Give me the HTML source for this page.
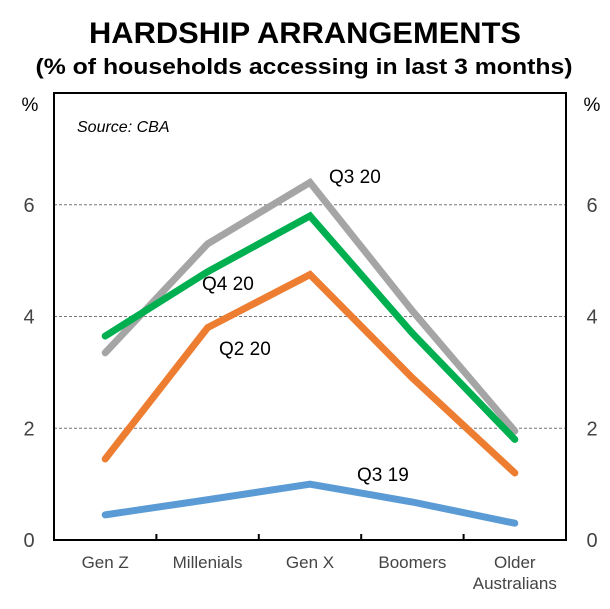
<!DOCTYPE html>
<html><head><meta charset="utf-8"><style>
body{margin:0;background:#fff;}
svg{display:block;font-family:"Liberation Sans",sans-serif;}
</style></head><body>
<svg id="c" width="610" height="609">
<text x="305" y="43" text-anchor="middle" font-size="30" font-weight="bold" textLength="432" lengthAdjust="spacingAndGlyphs">HARDSHIP ARRANGEMENTS</text>
<text x="304" y="74" text-anchor="middle" font-size="22" font-weight="bold" textLength="537" lengthAdjust="spacingAndGlyphs">(% of households accessing in last 3 months)</text>
<text x="30" y="111" text-anchor="middle" font-size="19">%</text>
<text x="592" y="111" text-anchor="middle" font-size="19">%</text>
<text x="77" y="132" font-size="16" font-style="italic">Source: CBA</text>
<g id="grid"></g><g id="lines"></g><g id="labels"></g>
<rect x="54" y="93" width="512" height="447" fill="none" stroke="#000" stroke-width="2"/>
</svg>
<script>
const categories=["Gen Z","Millenials","Gen X","Boomers","Older Australians"];
const q319=[0.45,0.72,1.0,0.68,0.3];
const q220=[1.45,3.8,4.75,2.9,1.2];
const q320=[3.35,5.3,6.4,4.1,1.95];
const q420=[3.65,4.8,5.8,3.7,1.8];
const yTicks=[0,2,4,6];
const NS="http://www.w3.org/2000/svg";
const L=54,R=566,T=93,B=540,YMAX=8;
const bw=(R-L)/categories.length;
const x=i=>L+bw*(i+0.5);
const y=v=>B-(B-T)*v/YMAX;
function mk(tag,attrs,parent,text){const e=document.createElementNS(NS,tag);for(const k in attrs)e.setAttribute(k,attrs[k]);if(text!==undefined)e.textContent=text;parent.appendChild(e);return e;}
const grid=document.getElementById('grid'),lines=document.getElementById('lines'),labels=document.getElementById('labels');
yTicks.forEach(t=>{
  if(t>0){const g=mk('line',{x1:L,x2:R,y1:y(t),y2:y(t),stroke:'#777','stroke-dasharray':'3,2','stroke-width':1},grid);
  
  }
  const a=mk('text',{x:29,y:y(t)+7,'text-anchor':'middle','font-size':20,fill:'#444'},grid,String(t));
  
  
  const b=mk('text',{x:592,y:y(t)+7,'text-anchor':'middle','font-size':20,fill:'#444'},grid,String(t));
  
  
});
for(let i=1;i<categories.length;i++){
  const tk=mk('line',{x1:L+bw*i,x2:L+bw*i,y1:B,y2:B-6,stroke:'#000','stroke-width':2},grid);
  
  
}
categories.forEach((c,i)=>{
  const parts=c==="Older Australians"?["Older","Australians"]:[c];
  parts.forEach((p,j)=>{
    const t=mk('text',{x:x(i),y:568+j*21,'text-anchor':'middle','font-size':17,fill:'#444'},labels,p);
    
    
  });
});
const series=[["q3-19",q319,"#5b9bd5"],["q2-20",q220,"#ed7d31"],["q3-20",q320,"#a5a5a5"],["q4-20",q420,"#00b050"]];
series.forEach(([n,d,col])=>{
  const p=mk('polyline',{points:d.map((v,i)=>x(i)+','+y(v)).join(' '),fill:'none',stroke:col,'stroke-width':7,'stroke-linecap':'round','stroke-linejoin':'miter'},lines);
  
  
});
const annos=[["Q3 20",329,183],["Q4 20",202,290],["Q2 20",219,355],["Q3 19",357,481]];
annos.forEach(([s,ax,ay])=>{
  const t=mk('text',{x:ax,y:ay,'font-size':19},labels,s);
  
  
});
</script>
</body></html>
